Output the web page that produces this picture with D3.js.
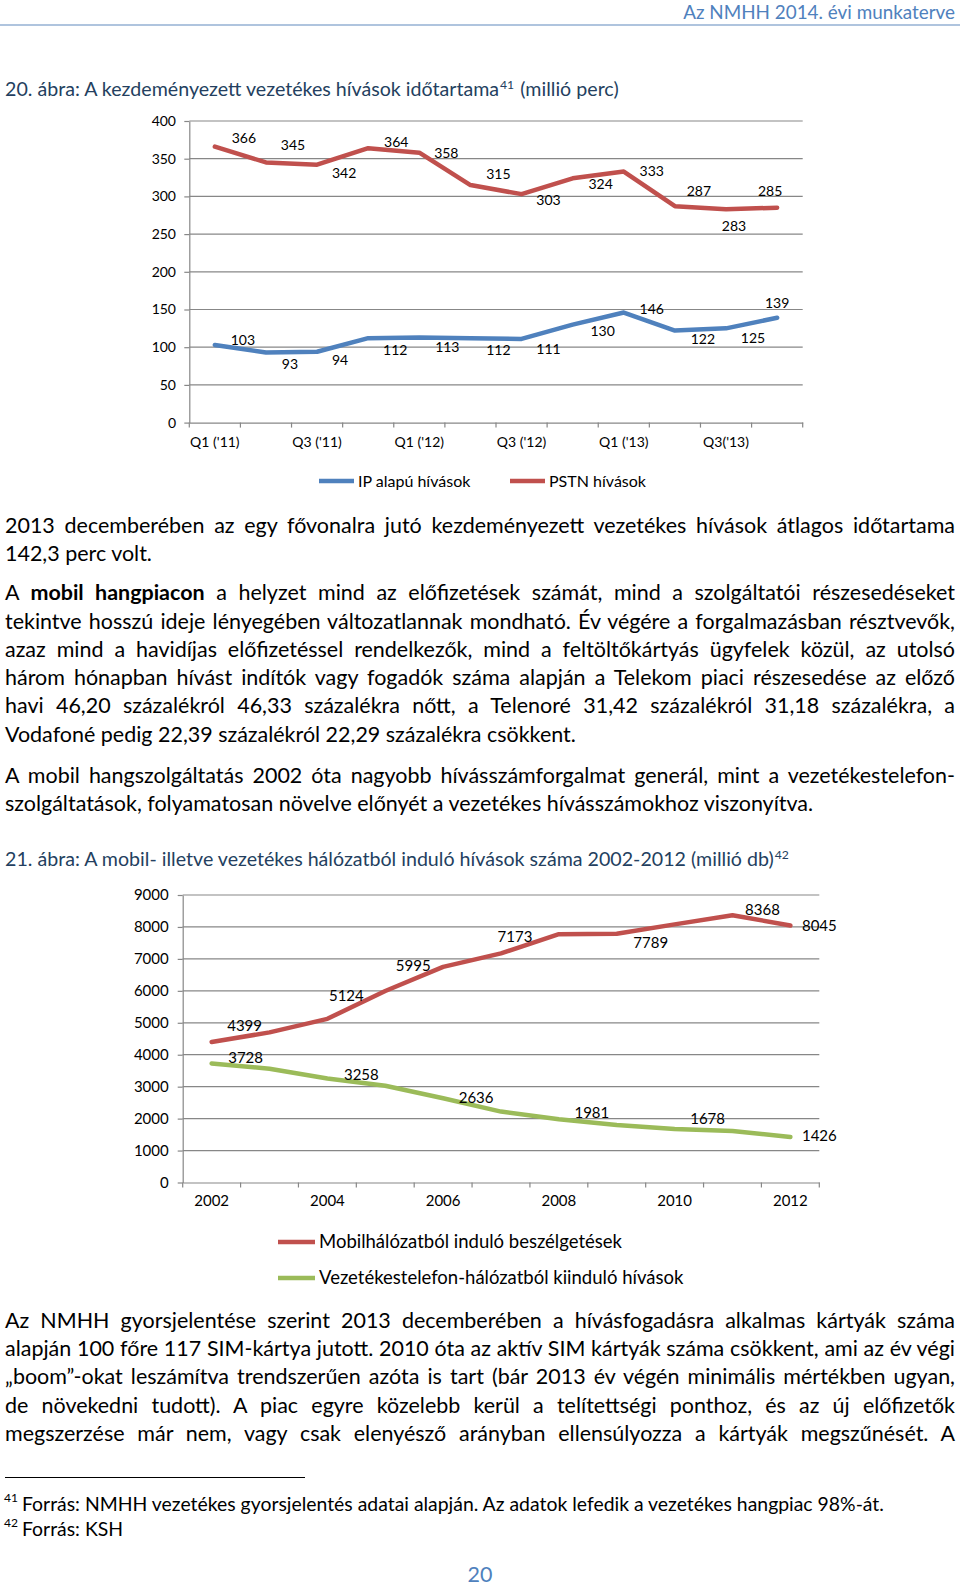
<!DOCTYPE html>
<html>
<head>
<meta charset="utf-8">
<script src="https://cdn.jsdelivr.net/npm/d3@7"></script>
<style>
  body { margin: 0; background: #fff; width: 960px; height: 1584px; position: relative; overflow: hidden; font-family: Lato, sans-serif; }
  .ln { position: absolute; white-space: nowrap; color: #000; line-height: 28px; }
  svg { position: absolute; left: 0; top: 0; }
</style>
</head>
<body>
<script>
// 20. ábra - quarterly call minutes (million)
const quarters = ["Q1 ('11)", "Q2 ('11)", "Q3 ('11)", "Q4 ('11)", "Q1 ('12)", "Q2 ('12)",
                  "Q3 ('12)", "Q4 ('12)", "Q1 ('13)", "Q2('13)", "Q3('13)", "Q4('13)"]
const ipValues = [103, 93, 94, 112, 113, 112, 111, 130, 146, 122, 125, 139]
const pstnValues = [366, 345, 342, 364, 358, 315, 303, 324, 333, 287, 283, 285]
const minuteTicks = [0, 50, 100, 150, 200, 250, 300, 350, 400]

// 21. ábra - yearly calls (million)
const years = ["2002", "2003", "2004", "2005", "2006", "2007", "2008", "2009", "2010", "2011", "2012"]
const mobileValues = [4399, 4700, 5124, 5995, 6750, 7173, 7775, 7789, 8080, 8368, 8045]
const fixedValues = [3728, 3560, 3258, 3030, 2636, 2220, 1981, 1800, 1678, 1610, 1426]
const mobileShown = [1, 0, 1, 1, 0, 1, 0, 1, 0, 1, 1]
const fixedShown = [1, 0, 1, 0, 1, 0, 1, 0, 1, 0, 1]
const callTicks = [0, 1000, 2000, 3000, 4000, 5000, 6000, 7000, 8000, 9000]

// label placement (px offset from the point), as the labels were dragged in the original
const pstnLabelPos = [[29,-9],[27,-17],[27,8],[28,-6],[27,0],[28,-11],[27,6],[28,6],[28,0],[24,-15],[8,17],[-7,-17]]
const ipLabelPos = [[28,-5],[24,12],[23,8],[27,12],[28,10],[28,12],[27,10],[30,7],[28,-3],[28,8],[27,10],[0,-15]]
const mobileLabelPos = [[33,-16],null,[19,-23],[28,-25],null,[14,-17],null,[34,9],null,[30,-5],[29,0]]
const fixedLabelPos = [[34,-6],null,[34,-4],null,[33,-1],null,[33,-6],null,[33,-10],null,[29,-1]]

const para1 = [
  "2013 decemberében az egy fővonalra jutó kezdeményezett vezetékes hívások átlagos időtartama",
  "142,3 perc volt."
]
const para2 = [
  "A |mobil hangpiacon| a helyzet mind az előfizetések számát, mind a szolgáltatói részesedéseket",
  "tekintve hosszú ideje lényegében változatlannak mondható. Év végére a forgalmazásban résztvevők,",
  "azaz mind a havidíjas előfizetéssel rendelkezők, mind a feltöltőkártyás ügyfelek közül, az utolsó",
  "három hónapban hívást indítók vagy fogadók száma alapján a Telekom piaci részesedése az előző",
  "havi 46,20 százalékról 46,33 százalékra nőtt, a Telenoré 31,42 százalékról 31,18 százalékra, a",
  "Vodafoné pedig 22,39 százalékról 22,29 százalékra csökkent."
]
const para3 = [
  "A mobil hangszolgáltatás 2002 óta nagyobb hívásszámforgalmat generál, mint a vezetékestelefon-",
  "szolgáltatások, folyamatosan növelve előnyét a vezetékes hívásszámokhoz viszonyítva."
]
// continues on the next page, so every line is full
const para4 = [
  "Az NMHH gyorsjelentése szerint 2013 decemberében a hívásfogadásra alkalmas kártyák száma",
  "alapján 100 főre 117 SIM-kártya jutott. 2010 óta az aktív SIM kártyák száma csökkent, ami az év végi",
  "„boom”-okat leszámítva trendszerűen azóta is tart (bár 2013 év végén minimális mértékben ugyan,",
  "de növekedni tudott). A piac egyre közelebb kerül a telítettségi ponthoz, és az új előfizetők",
  "megszerzése már nem, vagy csak elenyésző arányban ellensúlyozza a kártyák megszűnését. A"
]

const ctx = document.createElement("canvas").getContext("2d")
function textW(str, size, weight) {
  ctx.font = (weight || 400) + " " + size + "px Lato"
  return ctx.measureText(str).width
}
// fit a font size so a known line gets the width it has in the page
function fitSize(str, width) { return 20 * width / textW(str, 20) }

const bodySize = fitSize("Vodafoné pedig 22,39 százalékról 22,29 százalékra csökkent.", 571)
const noteSize = fitSize("Forrás: NMHH vezetékes gyorsjelentés adatai alapján. Az adatok lefedik a vezetékes hangpiac 98%-át.", 864)
const headSize = fitSize("Az NMHH 2014. évi munkaterve", 272)
const capSize = fitSize("20. ábra: A kezdeményezett vezetékes hívások időtartama (millió perc)", 600)

const page = d3.select("body")

function textLine(str, left, cy, size, justify, color) {
  const div = page.append("div").attr("class", "ln")
    .style("left", left + "px").style("top", (cy - 14) + "px")
    .style("font-size", size + "px")
    .style("color", color || "#000")
  str.split("|").forEach((t, i) => {
    const s = div.append("span").text(t)
    if (i % 2 == 1) s.style("font-weight", 700)
  })
  if (justify) {
    const w = div.node().getBoundingClientRect().width
    const n = (str.match(/ /g) || []).length
    div.style("word-spacing", ((955 - left - w) / n) + "px")
  }
  return div
}

function paragraph(lines, top, fullLast) {
  lines.forEach((l, i) => textLine(l, 5, top + i * 28.3, bodySize, fullLast || i < lines.length - 1))
}

// header
textLine("Az NMHH 2014. évi munkaterve", 0, 12, headSize, false, "#4f81bd")
  .style("left", null).style("right", "5px")

paragraph(para1, 524.5)
paragraph(para2, 592.2)
paragraph(para3, 775)
paragraph(para4, 1319.7, true)

// captions
function caption(main, note, tail, cy) {
  const d = textLine(main, 5, cy, capSize, false, "#243f60")
  d.append("span").text(note)
    .style("font-size", (capSize * 0.62) + "px").style("vertical-align", "0.55em").style("padding", "0 1px")
  d.append("span").text(tail)
}
caption("20. ábra: A kezdeményezett vezetékes hívások időtartama", "41", " (millió perc)", 85)
caption("21. ábra: A mobil- illetve vezetékes hálózatból induló hívások száma 2002-2012 (millió db)", "42", "", 855)

// footnotes
function footnote(num, str, cy) {
  textLine(num, 4, cy - 6, noteSize * 0.62)
  textLine(str, 22, cy, noteSize)
}
footnote("41", "Forrás: NMHH vezetékes gyorsjelentés adatai alapján. Az adatok lefedik a vezetékes hangpiac 98%-át.", 1503.6)
footnote("42", "Forrás: KSH", 1529)

textLine("20", 0, 1574, bodySize, false, "#4f81bd").style("left", null).style("width", "960px").style("text-align", "center")

const svg = page.append("svg").attr("width", 960).attr("height", 1584)

svg.append("line").attr("x1", 0).attr("x2", 960).attr("y1", 25).attr("y2", 25)
  .attr("stroke", "#95b0d3").attr("stroke-width", 1.6)
svg.append("line").attr("x1", 5).attr("x2", 305).attr("y1", 1477.5).attr("y2", 1477.5)
  .attr("stroke", "#000").attr("stroke-width", 1)

function lineChart(cfg) {
  const x = d3.scaleBand().domain(cfg.cats).range([cfg.x0, cfg.x1])
  const cx = c => x(c) + x.bandwidth() / 2
  const y = d3.scaleLinear().domain([0, cfg.ticks[cfg.ticks.length - 1]]).range([cfg.yb, cfg.yt])
  const g = svg.append("g")

  g.selectAll(".grid").data(cfg.ticks.slice(1)).join("line")
    .attr("class", "grid")
    .attr("x1", cfg.x0).attr("x2", cfg.x1)
    .attr("y1", d => y(d)).attr("y2", d => y(d))
    .attr("stroke", "#878787").attr("stroke-width", 1.2)

  const ya = g.append("g").attr("transform", "translate(" + cfg.x0 + ",0)")
    .call(d3.axisLeft(y).tickValues(cfg.ticks).tickFormat(d3.format("d"))
      .tickSize(5).tickSizeOuter(0).tickPadding(cfg.yPad))
  ya.attr("font-family", "Lato").attr("font-size", cfg.fs)
  ya.selectAll("path, line").attr("stroke", "#878787").attr("stroke-width", 1.2)
  ya.selectAll("text").attr("fill", "#000")

  const xa = g.append("g").attr("transform", "translate(0," + cfg.yb + ")")
    .call(d3.axisBottom(x).tickSize(0).tickSizeOuter(0).tickPadding(cfg.xPad)
      .tickFormat((d, i) => i % 2 == 0 ? d : ""))
  xa.attr("font-family", "Lato").attr("font-size", cfg.fs)
  xa.select(".domain").attr("stroke", "#878787").attr("stroke-width", 1.2)
  xa.selectAll("text").attr("fill", "#000")
  xa.selectAll(".edge").data(cfg.cats.map(c => x(c)).concat([cfg.x1])).join("line")
    .attr("class", "edge")
    .attr("x1", d => d).attr("x2", d => d).attr("y1", 0).attr("y2", 5)
    .attr("stroke", "#878787").attr("stroke-width", 1.2)

  const line = d3.line().x((d, i) => cx(cfg.cats[i])).y(d => y(d))

  cfg.series.forEach(s => {
    g.append("path").datum(s.values)
      .attr("d", line).attr("fill", "none")
      .attr("stroke", s.color).attr("stroke-width", cfg.sw)
      .attr("stroke-linejoin", "round").attr("stroke-linecap", "round")
  })

  cfg.series.forEach(s => {
    g.selectAll(null).data(s.values.map((v, i) => ({ v: v, i: i, p: s.labelPos[i] })).filter(d => d.p))
      .join("text")
      .attr("x", d => cx(cfg.cats[d.i]) + d.p[0])
      .attr("y", d => y(d.v) + d.p[1])
      .attr("dy", "0.35em")
      .attr("text-anchor", "middle")
      .attr("font-family", "Lato").attr("font-size", cfg.fs)
      .text(d => d.v)
  })

  cfg.legend.forEach(l => {
    g.append("line").attr("x1", l.x).attr("x2", l.x + l.len).attr("y1", l.y).attr("y2", l.y)
      .attr("stroke", l.color).attr("stroke-width", cfg.sw)
    g.append("text").attr("x", l.x + l.len + 4).attr("y", l.y).attr("dy", "0.35em")
      .attr("font-family", "Lato").attr("font-size", cfg.legendFs)
      .text(l.name)
  })
}

lineChart({
  cats: quarters, ticks: minuteTicks,
  x0: 189.3, x1: 802.7, yb: 422.6, yt: 121,
  fs: 14, legendFs: 16, sw: 4.5, yPad: 8.3, xPad: 14.5,
  series: [
    { values: ipValues, color: "#4f81bd", labelPos: ipLabelPos },
    { values: pstnValues, color: "#c0504d", labelPos: pstnLabelPos }
  ],
  legend: [
    { name: "IP alapú  hívások", color: "#4f81bd", x: 319, len: 35, y: 481 },
    { name: "PSTN hívások", color: "#c0504d", x: 510, len: 35, y: 481 }
  ]
})

lineChart({
  cats: years, ticks: callTicks,
  x0: 182.7, x1: 819.3, yb: 1182.5, yt: 895,
  fs: 15, legendFs: 18.5, sw: 4.5, yPad: 9, xPad: 12.8,
  series: [
    { values: mobileValues, color: "#c0504d", labelPos: mobileLabelPos.map((p, i) => mobileShown[i] ? p : null) },
    { values: fixedValues, color: "#9bbb59", labelPos: fixedLabelPos.map((p, i) => fixedShown[i] ? p : null) }
  ],
  legend: [
    { name: "Mobilhálózatból induló beszélgetések", color: "#c0504d", x: 278, len: 37, y: 1242 },
    { name: "Vezetékestelefon-hálózatból kiinduló hívások", color: "#9bbb59", x: 278, len: 37, y: 1278 }
  ]
})
</script>
</body>
</html>
